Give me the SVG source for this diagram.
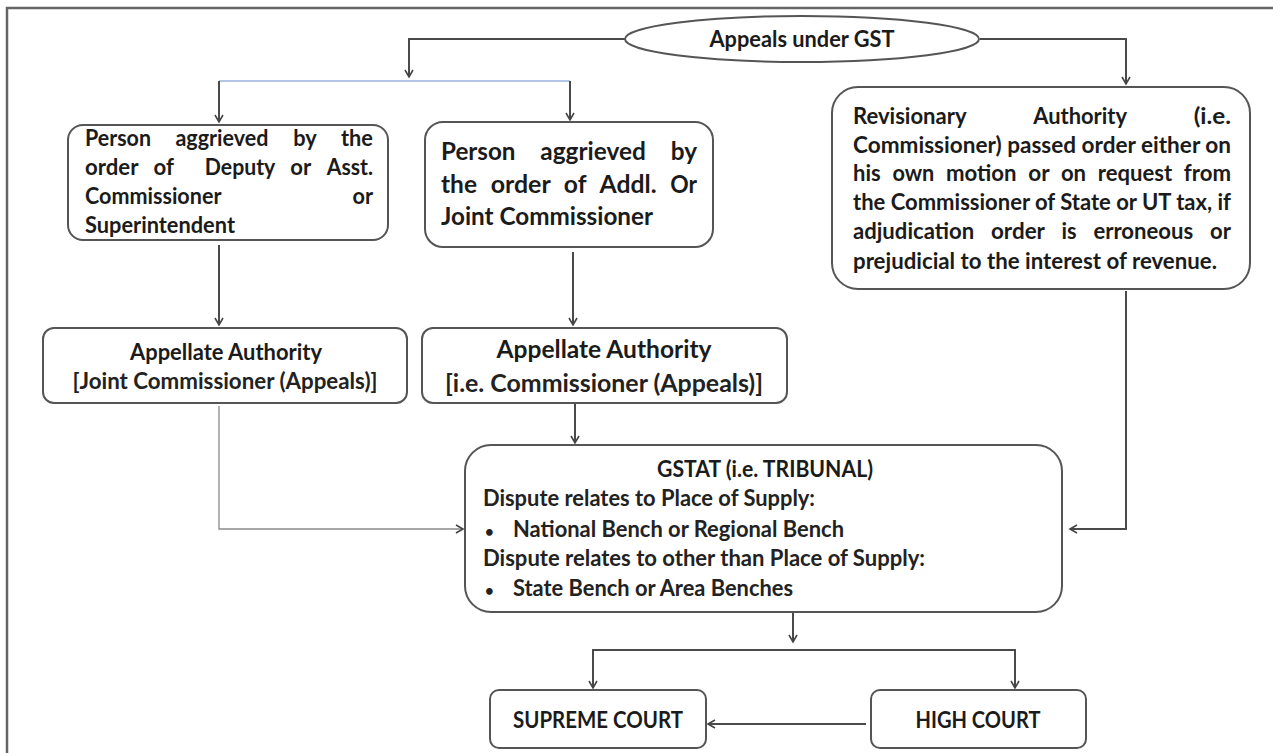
<svg xmlns="http://www.w3.org/2000/svg" width="1273" height="753" viewBox="0 0 1273 753">
<defs>
<marker id="arr" markerWidth="12" markerHeight="12" refX="8" refY="5" orient="auto" markerUnits="userSpaceOnUse">
<path d="M1,1 L8,5 L1,9" fill="none" stroke="#444" stroke-width="1.6"/>
</marker>
</defs>
<style>
.box{fill:#fff;stroke:#555;stroke-width:2}
.t{font-family:Lato,"Liberation Sans",sans-serif;font-weight:bold;fill:#1b1b1b}
.n{font-family:Lato,"Liberation Sans",sans-serif;font-weight:bold;fill:#222}
.c{text-anchor:middle}
.ln{fill:none;stroke:#4a4a4a;stroke-width:2}
.b{font-size:15px}
</style>
<rect x="7" y="8" width="1280" height="760" fill="#fff" stroke="#666" stroke-width="2.5"/>

<g id="connectors">
<polyline class="ln" points="625,39 409,39 409,77" marker-end="url(#arr)"/>
<line x1="219" y1="81" x2="570" y2="81" stroke="#b4c6e7" stroke-width="2"/>
<line class="ln" x1="219" y1="81" x2="219" y2="122" marker-end="url(#arr)"/>
<line class="ln" x1="570" y1="81" x2="570" y2="120" marker-end="url(#arr)"/>
<polyline class="ln" points="980,39 1126,39 1126,84" marker-end="url(#arr)"/>
<line class="ln" x1="219" y1="245" x2="219" y2="325" marker-end="url(#arr)"/>
<line class="ln" x1="573" y1="252" x2="573" y2="325" marker-end="url(#arr)"/>
<polyline points="219,406 219,529 463,529" fill="none" stroke="#8a8a8a" stroke-width="1.3" marker-end="url(#arr)"/>
<line class="ln" x1="575" y1="404" x2="575" y2="443" marker-end="url(#arr)"/>
<polyline class="ln" points="1126,291 1126,529 1070,529" marker-end="url(#arr)"/>
<line class="ln" x1="793" y1="612" x2="793" y2="642" marker-end="url(#arr)"/>
<polyline class="ln" points="593,688 593,650 1015,650 1015,688" marker-end="url(#arr)"/>
<line class="ln" x1="593" y1="650" x2="593" y2="688" marker-end="url(#arr)"/>
<line class="ln" x1="866" y1="724" x2="708" y2="724" marker-end="url(#arr)"/>
</g>

<g id="appeals-gst">
<ellipse cx="802" cy="39" rx="177" ry="23" class="box"/>
<text class="t c" x="802" y="47" font-size="22" textLength="185" lengthAdjust="spacingAndGlyphs">Appeals under GST</text>
</g>

<g id="person-deputy">
<rect class="box" x="68" y="125" width="320" height="115" rx="15"/>
<text class="t" font-size="22" y="146"><tspan x="85" textLength="66" lengthAdjust="spacingAndGlyphs">Person</tspan> <tspan x="175.4" textLength="93" lengthAdjust="spacingAndGlyphs">aggrieved</tspan> <tspan x="293.3" textLength="23" lengthAdjust="spacingAndGlyphs">by</tspan> <tspan x="341" textLength="32" lengthAdjust="spacingAndGlyphs">the</tspan></text>
<text class="t" font-size="22" y="175"><tspan x="85" textLength="53" lengthAdjust="spacingAndGlyphs">order</tspan> <tspan x="153.5" textLength="20" lengthAdjust="spacingAndGlyphs">of</tspan> <tspan x="204.8" textLength="70" lengthAdjust="spacingAndGlyphs">Deputy</tspan> <tspan x="290.3" textLength="20.5" lengthAdjust="spacingAndGlyphs">or</tspan> <tspan x="326.7" textLength="46.3" lengthAdjust="spacingAndGlyphs">Asst.</tspan></text>
<text class="t" font-size="22" y="204"><tspan x="85" textLength="136" lengthAdjust="spacingAndGlyphs">Commissioner</tspan> <tspan x="352.5" textLength="20.5" lengthAdjust="spacingAndGlyphs">or</tspan></text>
<text class="t" font-size="22" y="233" x="85" textLength="150" lengthAdjust="spacingAndGlyphs">Superintendent</text>
</g>

<g id="person-addl">
<rect class="box" x="425" y="122" width="288" height="125" rx="18"/>
<text class="t" font-size="25" y="160"><tspan x="441" textLength="74.5" lengthAdjust="spacingAndGlyphs">Person</tspan> <tspan x="540.3" textLength="105.6" lengthAdjust="spacingAndGlyphs">aggrieved</tspan> <tspan x="670.7" textLength="26.3" lengthAdjust="spacingAndGlyphs">by</tspan></text>
<text class="t" font-size="25" y="193"><tspan x="441" textLength="36" lengthAdjust="spacingAndGlyphs">the</tspan> <tspan x="490.7" textLength="59.5" lengthAdjust="spacingAndGlyphs">order</tspan> <tspan x="563.8" textLength="22.2" lengthAdjust="spacingAndGlyphs">of</tspan> <tspan x="599.6" textLength="57" lengthAdjust="spacingAndGlyphs">Addl.</tspan> <tspan x="670.2" textLength="26.8" lengthAdjust="spacingAndGlyphs">Or</tspan></text>
<text class="t" font-size="25" y="225" x="441" textLength="212" lengthAdjust="spacingAndGlyphs">Joint Commissioner</text>
</g>

<g id="revisionary">
<rect class="box" x="832" y="87" width="418" height="202" rx="26"/>
<text class="t" font-size="22" y="124"><tspan x="853" textLength="113" lengthAdjust="spacingAndGlyphs">Revisionary</tspan> <tspan x="1033.2" textLength="93.3" lengthAdjust="spacingAndGlyphs">Authority</tspan> <tspan x="1193.7" textLength="37.3" lengthAdjust="spacingAndGlyphs">(i.e.</tspan></text>
<text class="t" font-size="22" y="153" x="853" textLength="378" lengthAdjust="spacingAndGlyphs">Commissioner) passed order either on</text>
<text class="t" font-size="22" y="181"><tspan x="853" textLength="27.7" lengthAdjust="spacingAndGlyphs">his</tspan> <tspan x="892.4" textLength="41.9" lengthAdjust="spacingAndGlyphs">own</tspan> <tspan x="946" textLength="70.6" lengthAdjust="spacingAndGlyphs">motion</tspan> <tspan x="1028.3" textLength="20.9" lengthAdjust="spacingAndGlyphs">or</tspan> <tspan x="1060.9" textLength="25.2" lengthAdjust="spacingAndGlyphs">on</tspan> <tspan x="1097.8" textLength="74.4" lengthAdjust="spacingAndGlyphs">request</tspan> <tspan x="1183.8" textLength="47.2" lengthAdjust="spacingAndGlyphs">from</tspan></text>
<text class="t" font-size="22" y="210" x="853" textLength="378" lengthAdjust="spacingAndGlyphs">the Commissioner of State or UT tax, if</text>
<text class="t" font-size="22" y="239"><tspan x="853" textLength="121.1" lengthAdjust="spacingAndGlyphs">adjudication</tspan> <tspan x="991" textLength="53.5" lengthAdjust="spacingAndGlyphs">order</tspan> <tspan x="1061.4" textLength="15.1" lengthAdjust="spacingAndGlyphs">is</tspan> <tspan x="1093.4" textLength="99.8" lengthAdjust="spacingAndGlyphs">erroneous</tspan> <tspan x="1210.1" textLength="20.9" lengthAdjust="spacingAndGlyphs">or</tspan></text>
<text class="t" font-size="22" y="269" x="853" textLength="364" lengthAdjust="spacingAndGlyphs">prejudicial to the interest of revenue.</text>
</g>

<g id="appellate-joint">
<rect class="box" x="43" y="328" width="364" height="75" rx="11"/>
<text class="t c" font-size="22" x="226" y="360" textLength="192" lengthAdjust="spacingAndGlyphs">Appellate Authority</text>
<text class="n c" font-size="22" x="225" y="389" textLength="305" lengthAdjust="spacingAndGlyphs">[Joint Commissioner (Appeals)]</text>
</g>

<g id="appellate-commissioner">
<rect class="box" x="422" y="328" width="365" height="75" rx="11"/>
<text class="t c" font-size="25" x="604" y="358" textLength="215" lengthAdjust="spacingAndGlyphs">Appellate Authority</text>
<text class="n c" font-size="25" x="604" y="392" textLength="318" lengthAdjust="spacingAndGlyphs">[i.e. Commissioner (Appeals)]</text>
</g>

<g id="gstat">
<rect class="box" x="465" y="445" width="597" height="167" rx="26"/>
<text class="t c" font-size="22" x="765" y="477" textLength="216" lengthAdjust="spacingAndGlyphs">GSTAT (i.e. TRIBUNAL)</text>
<text class="n" font-size="22" x="483" y="506" textLength="332" lengthAdjust="spacingAndGlyphs">Dispute relates to Place of Supply:</text>
<text class="n" font-size="22" y="537"><tspan x="485" class="b">•</tspan> <tspan x="513" textLength="331" lengthAdjust="spacingAndGlyphs">National Bench or Regional Bench</tspan></text>
<text class="n" font-size="22" x="483" y="566" textLength="442" lengthAdjust="spacingAndGlyphs">Dispute relates to other than Place of Supply:</text>
<text class="n" font-size="22" y="596"><tspan x="485" class="b">•</tspan> <tspan x="513" textLength="280" lengthAdjust="spacingAndGlyphs">State Bench or Area Benches</tspan></text>
</g>

<g id="supreme-court">
<rect class="box" x="490" y="690" width="216" height="58" rx="9"/>
<text class="t c" font-size="22" x="598" y="728" textLength="170" lengthAdjust="spacingAndGlyphs">SUPREME COURT</text>
</g>

<g id="high-court">
<rect class="box" x="871" y="690" width="215" height="58" rx="9"/>
<text class="t c" font-size="22" x="978" y="728" textLength="125" lengthAdjust="spacingAndGlyphs">HIGH COURT</text>
</g>
</svg>
